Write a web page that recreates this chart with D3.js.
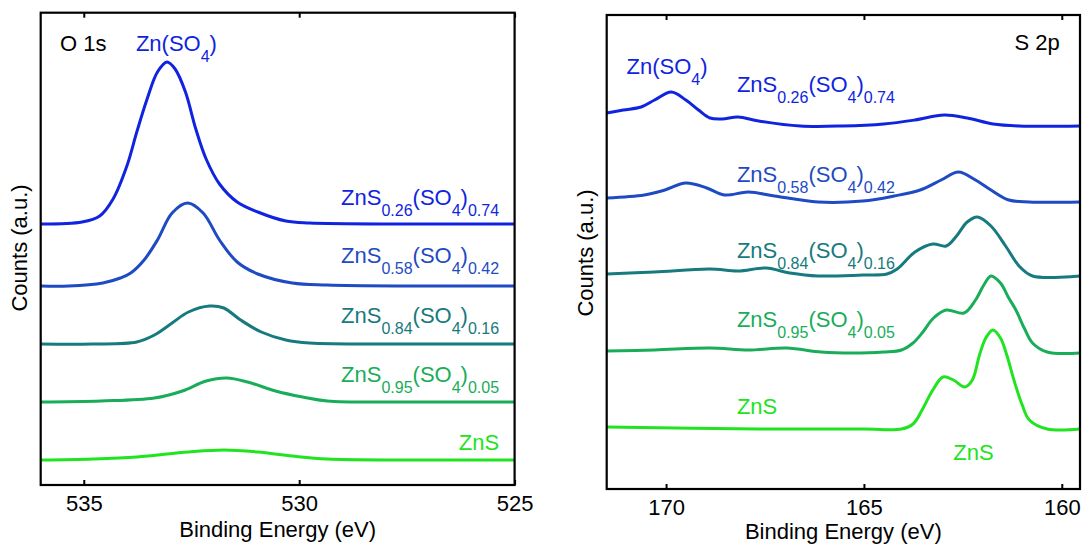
<!DOCTYPE html>
<html>
<head>
<meta charset="utf-8">
<script src="https://cdn.jsdelivr.net/npm/d3@7"></script>
<style>
  body { margin: 0; background: #fff; }
  svg { display: block; font-family: 'Liberation Sans', Arial, sans-serif; }
</style>
</head>
<body>
<div id="chart"></div>
<script>
// sample names, top to bottom
var sampleNames = ["ZnS_{0.26}(SO_{4})_{0.74}", "ZnS_{0.58}(SO_{4})_{0.42}",
  "ZnS_{0.84}(SO_{4})_{0.16}", "ZnS_{0.95}(SO_{4})_{0.05}", "ZnS"];
var sampleColors = ["#1024e0", "#1e4bc3", "#177a7e", "#19ad5a", "#20e420"];

var o1sTicks = [535, 530, 525];
var s2pTicks = [170, 165, 160];

// vertical offsets of each spectrum (a.u.)
var o1sOffsets = [261, 199, 141, 83, 25];
var s2pOffsets = [363, 287, 213, 136, 60];

// O 1s spectra: [binding energy, counts above offset]
var o1s074 = [[536,0],[535.04,2],[534.63,8],[534.32,25],[534.0,58],[533.77,92],[533.53,125],[533.29,152],
  [533.07,162],[532.88,155],[532.64,132],[532.4,95],[532.16,65],[531.85,40],[531.44,22],[530.96,12],
  [530.31,3],[529.76,1],[527.5,0],[525,0]];
var o1s042 = [[536,0],[535.35,0],[534.56,3],[534.15,8],[533.91,13],[533.6,26],[533.29,46],[532.95,73],
  [532.59,83],[532.23,73],[531.85,46],[531.44,24],[530.96,12],[530.16,3],[529.35,1],[527.5,0],[525,0]];
var o1s016 = [[536,0],[534.8,0],[533.77,2],[533.36,9],[532.95,21],[532.57,32],[532.08,38],[531.75,36],
  [531.36,24],[530.88,12],[530.31,4],[529.76,1],[527.5,0],[525,0]];
var o1s005 = [[536,0],[534.6,1],[533.36,4],[532.71,11],[532.16,21],[531.68,24],[531.2,20],[530.55,11],
  [529.92,5],[529.35,1],[527.5,0],[525,0]];
var o1sZnS = [[536,0],[534.8,1],[533.77,3],[532.57,8],[531.75,10],[530.96,8],[530.16,4],[529.35,1],
  [527.5,0],[525,0]];

// S 2p spectra
var s2p074 = [[171.5,13],[171.08,16],[170.63,19],[170.29,26],[169.87,34],[169.5,26],[169.18,16],[168.89,8],
  [168.58,7],[168.18,9],[167.66,5],[166.61,0],[165.55,0],[164.5,2],[163.71,6],[162.97,11],[162.39,8],
  [161.74,2],[161.08,0],[159.54,0]];
var s2p042 = [[171.5,4],[170.55,7],[170.03,12],[169.5,19],[168.97,14],[168.53,7],[167.92,10],[167.26,6],
  [166.16,0],[165.03,1],[164.24,6],[163.58,12],[163.05,22],[162.61,30],[162.18,22],[161.79,12],
  [161.34,2],[160.82,0],[159.54,0]];
var s2p016 = [[171.5,2],[170.29,4],[168.89,7],[168.18,5],[167.47,8],[166.87,3],[166.16,0],[165.03,1],
  [164.42,2],[164.16,7],[163.71,24],[163.26,32],[162.92,30],[162.66,40],[162.39,54],[162.13,59],
  [161.79,50],[161.42,30],[161.08,10],[160.74,0],[159.54,0]];
var s2p005 = [[171.5,2],[170.29,3],[168.89,5],[167.92,3],[166.95,5],[166.08,1],[165.29,0],[164.5,1],
  [164.05,3],[163.76,10],[163.53,20],[163.24,35],[162.92,43],[162.47,40],[162.18,53],[161.97,68],
  [161.79,77],[161.55,70],[161.34,55],[161.16,43],[160.95,25],[160.74,10],[160.37,1],[159.54,0]];
var s2pZnS = [[171.5,2],[167.66,0],[165.0,0],[164.05,0],[163.76,5],[163.53,19],[163.26,39],[163.0,52],
  [162.74,49],[162.45,42],[162.26,49],[162.08,74],[161.92,91],[161.74,99],[161.55,91],[161.39,74],
  [161.21,49],[161.0,24],[160.82,9],[160.37,0],[159.54,0]];

var o1sSeries = [o1s074, o1s042, o1s016, o1s005, o1sZnS];
var s2pSeries = [s2p074, s2p042, s2p016, s2p005, s2pZnS];

var W = 1082, H = 545;
var svg = d3.select("#chart").append("svg").attr("width", W).attr("height", H);

// write a label where "_{..}" parts become subscripts
function richText(g, px, py, str, color, anchor) {
  var t = g.append("text").attr("x", px).attr("y", py)
    .attr("fill", color).attr("text-anchor", anchor || "start")
    .style("font-size", "22px");
  var parts = str.split(/(_\{[^}]*\})/).filter(function (s) { return s.length; });
  var lowered = false;
  parts.forEach(function (s) {
    if (s.indexOf("_{") === 0) {
      t.append("tspan").attr("dy", lowered ? 0 : 11).style("font-size", "16px").text(s.slice(2, -1));
      lowered = true;
    } else {
      t.append("tspan").attr("dy", lowered ? -11 : 0).text(s);
      lowered = false;
    }
  });
  return t;
}

function drawPanel(p) {
  var g = svg.append("g");
  var x = d3.scaleLinear().domain(p.xDomain).range([p.left, p.right]);
  var y = d3.scaleLinear().domain([0, p.bottom - p.top]).range([p.bottom, p.top]);

  // spectra
  p.series.forEach(function (s, i) {
    var line = d3.line()
      .x(function (d) { return x(d[0]); })
      .y(function (d) { return y(d[1] + p.offsets[i]); })
      .curve(d3.curveCatmullRom.alpha(0.5));
    g.append("path").datum(s)
      .attr("fill", "none")
      .attr("stroke", sampleColors[i])
      .attr("stroke-width", 3)
      .attr("stroke-linejoin", "round")
      .attr("d", line);
  });

  // bottom axis, ticks pointing in
  var xAxis = d3.axisBottom(x).tickValues(p.ticks).tickSizeInner(-5).tickSizeOuter(0).tickPadding(10.5)
    .tickFormat(d3.format("d"));
  var ax = g.append("g").attr("transform", "translate(0," + p.bottom + ")").call(xAxis);
  ax.select(".domain").remove();
  ax.selectAll(".tick line").attr("stroke", "#000").attr("stroke-width", 2);
  ax.selectAll(".tick text").style("font-size", "22px")
    .style("font-family", "'Liberation Sans', Arial, sans-serif").attr("fill", "#000");

  // top ticks
  var topAxis = d3.axisTop(x).tickValues(p.ticks).tickSizeInner(-5).tickSizeOuter(0).tickFormat("");
  var at = g.append("g").attr("transform", "translate(0," + p.top + ")").call(topAxis);
  at.select(".domain").remove();
  at.selectAll(".tick line").attr("stroke", "#000").attr("stroke-width", 2);

  // frame
  g.append("rect")
    .attr("x", p.left).attr("y", p.top)
    .attr("width", p.right - p.left).attr("height", p.bottom - p.top)
    .attr("fill", "none").attr("stroke", "#000").attr("stroke-width", 2.2);

  // axis titles
  g.append("text").attr("x", (p.left + p.right) / 2).attr("y", p.titleY)
    .attr("text-anchor", "middle").style("font-size", "22px").text("Binding Energy (eV)");
  g.append("text")
    .attr("transform", "translate(" + p.yTitleX + "," + p.yTitleY + ") rotate(-90)")
    .attr("text-anchor", "middle").style("font-size", "22px").text("Counts (a.u.)");

  // series labels
  p.labels.forEach(function (l) {
    richText(g, x(l.e), y(l.c), l.text, l.color, l.anchor);
  });
}

drawPanel({
  left: 40.7, right: 514.6, top: 12.7, bottom: 485,
  xDomain: [536, 525], ticks: o1sTicks,
  series: o1sSeries, offsets: o1sOffsets,
  titleY: 537, yTitleX: 27, yTitleY: 248,
  labels: [
    { e: 535.55, c: 434, text: "O 1s", color: "#000" },
    { e: 533.79, c: 434, text: "Zn(SO_{4})", color: sampleColors[0] },
    { e: 525.36, c: 280, text: sampleNames[0], color: sampleColors[0], anchor: "end" },
    { e: 525.36, c: 222, text: sampleNames[1], color: sampleColors[1], anchor: "end" },
    { e: 525.36, c: 162, text: sampleNames[2], color: sampleColors[2], anchor: "end" },
    { e: 525.36, c: 103, text: sampleNames[3], color: sampleColors[3], anchor: "end" },
    { e: 525.36, c: 35, text: sampleNames[4], color: sampleColors[4], anchor: "end" }
  ]
});

drawPanel({
  left: 606.7, right: 1080, top: 15, bottom: 489,
  xDomain: [171.5, 159.54], ticks: s2pTicks,
  series: s2pSeries, offsets: s2pOffsets,
  titleY: 539, yTitleX: 593, yTitleY: 253,
  labels: [
    { e: 160.05, c: 439, text: "S 2p", color: "#000", anchor: "end" },
    { e: 171.0, c: 415, text: "Zn(SO_{4})", color: sampleColors[0] },
    { e: 168.21, c: 397, text: sampleNames[0], color: sampleColors[0] },
    { e: 168.21, c: 307, text: sampleNames[1], color: sampleColors[1] },
    { e: 168.21, c: 231, text: sampleNames[2], color: sampleColors[2] },
    { e: 168.21, c: 162, text: sampleNames[3], color: sampleColors[3] },
    { e: 168.21, c: 75, text: sampleNames[4], color: sampleColors[4] },
    { e: 162.74, c: 29, text: "ZnS", color: sampleColors[4] }
  ]
});
</script>
</body>
</html>
